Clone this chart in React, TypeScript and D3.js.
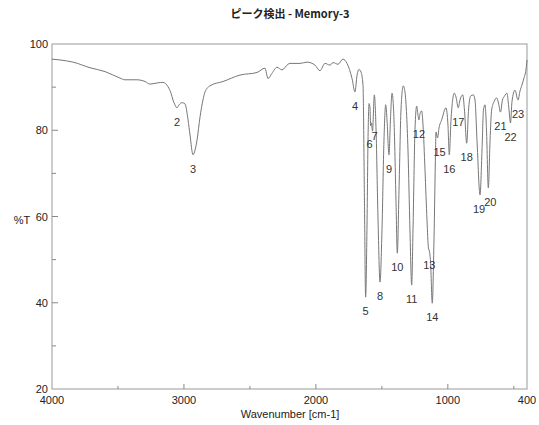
import React from "react";
import * as d3 from "d3";

// spectrum (cm-1 / %T)
const wavenumber = [
  4000, 3939, 3841, 3712, 3598, 3485, 3447, 3356, 3295, 3257,
  3197, 3159, 3121, 3098, 3083, 3068, 3053, 3037, 3015, 2992,
  2969, 2954, 2931, 2916, 2901, 2878, 2856, 2840, 2803, 2704,
  2575, 2446, 2386, 2363, 2333, 2295, 2257, 2211, 2196, 2120,
  2067, 2007, 1969, 1931, 1893, 1870, 1832, 1795, 1764, 1726,
  1704, 1688, 1673, 1658, 1643, 1632, 1623, 1613, 1605, 1597,
  1590, 1585, 1579, 1571, 1557, 1544, 1529, 1514, 1499, 1484,
  1471, 1461, 1446, 1435, 1423, 1408, 1393, 1383, 1370, 1355,
  1338, 1325, 1302, 1287, 1274, 1264, 1249, 1236, 1226, 1219,
  1211, 1198, 1188, 1173, 1158, 1147, 1140, 1131, 1118, 1105,
  1093, 1090, 1078, 1067, 1047, 1014, 999, 989, 976, 951,
  938, 921, 908, 887, 874, 857, 843, 828, 807, 794,
  779, 756, 741, 730, 718, 707, 693, 680, 668, 650,
  630, 616, 601, 586, 571, 552, 540, 525, 514, 491,
  468, 453, 438, 423, 408, 400,
];
const transmittance = [
  96.5, 96.3, 95.8, 94.5, 93.6, 92.1, 91.7, 91.7, 91.3, 90.7,
  91.0, 91.1, 90.1, 88.6, 87.0, 85.9, 85.2, 85.9, 86.4, 86.1,
  82.4, 78.9, 74.3, 75.4, 77.7, 83.1, 87.0, 88.9, 90.3, 91.3,
  92.8, 93.4, 94.4, 92.0, 93.2, 94.6, 94.0, 95.3, 95.5, 95.5,
  95.8, 95.1, 93.8, 95.5, 95.1, 95.7, 95.3, 96.5, 95.5, 92.0,
  88.9, 92.8, 94.1, 93.5, 90.5, 63.8, 41.3, 56.9, 77.7, 86.2,
  85.2, 81.0, 81.7, 79.8, 88.2, 80.1, 59.2, 44.8, 56.9, 77.7,
  85.9, 82.4, 74.3, 82.4, 88.6, 82.4, 63.8, 51.5, 66.1, 84.7,
  90.3, 88.9, 75.4, 56.9, 44.1, 56.9, 80.1, 85.6, 83.5, 82.4,
  83.8, 84.5, 81.2, 70.8, 59.2, 52.7, 52.0, 49.5, 39.9, 54.6,
  75.4, 79.6, 78.2, 80.5, 82.4, 85.2, 81.2, 74.3, 82.4, 88.6,
  87.7, 85.2, 87.0, 88.2, 84.7, 77.0, 84.7, 87.9, 88.2, 87.0,
  77.7, 65.0, 75.4, 84.7, 85.9, 80.1, 66.6, 77.7, 84.7, 86.6,
  87.5, 86.3, 84.2, 87.0, 87.9, 88.6, 85.9, 81.7, 86.6, 89.3,
  87.0, 89.1, 90.5, 92.1, 94.0, 96.3,
];

// detected peaks
const peakNo = [2, 3, 4, 5, 6, 7, 8, 9, 10, 11, 12, 13, 14, 15, 16, 17, 18, 19, 20, 21, 22, 23];
const peakWn = [3053, 2931, 1704, 1623, 1585, 1571, 1514, 1446, 1383, 1274, 1219, 1140, 1118, 1078, 989, 921, 857, 756, 693, 601, 525, 468];
const peakT = [85.2, 74.3, 88.9, 41.3, 81.0, 79.8, 44.8, 74.3, 51.5, 44.1, 82.4, 52.0, 39.9, 78.2, 74.3, 85.2, 77.0, 65.0, 66.6, 84.2, 81.7, 87.0];

const xTicks = [4000, 3000, 2000, 1000, 400];
const xMinor = [3500, 3000, 2500, 2000, 1500, 1000, 500];
const yTicks = [20, 40, 60, 80, 100];
const yMinor = [30, 40, 50, 60, 70, 80, 90];

const W = 539;
const H = 425;
const left = 52, right = 527, top = 44, bottom = 389;
const font = "'Liberation Sans', Arial, sans-serif";

export default function App() {
  const x = d3.scaleLinear().domain([4000, 400]).range([left, right]);
  const y = d3.scaleLinear().domain([20, 100]).range([bottom, top]);

  const pts: [number, number][] = wavenumber.map((w, i) => [w, transmittance[i]]);
  const line = d3
    .line<[number, number]>()
    .x((d) => x(d[0]))
    .y((d) => y(d[1]))
    .curve(d3.curveMonotoneX);

  // labels sit under the peak; 6/7 are stacked like in the original print
  const labelDy = (n: number) => (n === 6 ? 22 : n === 7 ? 9 : 18);
  const labelDx = (n: number) =>
    n === 6 ? -1 : n === 7 ? 2 : n === 15 ? 2 : n === 19 ? -1 : n === 20 ? 2 : 0;

  return (
    <svg
      width={W}
      height={H}
      style={{ position: "absolute", left: 0, top: 0, background: "#fff" }}
      fontFamily={font}
    >
      <text x={290} y={18} textAnchor="middle" fontSize={11} fontWeight="bold" fill="#222"
        fontFamily="'Noto Sans CJK JP', 'Liberation Sans', sans-serif">
        ピーク検出 - Memory-3
      </text>

      <rect x={left} y={top} width={right - left} height={bottom - top} fill="none" stroke="#999" strokeWidth={1} />

      {xMinor.map((t) => (
        <line key={"xm" + t} x1={x(t)} x2={x(t)} y1={bottom} y2={bottom - (t % 1000 === 0 ? 5 : 3)} stroke="#888" />
      ))}
      {yMinor.map((t) => (
        <line key={"ym" + t} x1={left} x2={left + (t % 20 === 0 ? 6 : 4)} y1={y(t)} y2={y(t)} stroke="#888" />
      ))}

      {xTicks.map((t) => (
        <text key={"xt" + t} x={x(t)} y={bottom + 15} textAnchor="middle" fontSize={11} fill="#222">
          {t}
        </text>
      ))}
      {yTicks.map((t) => (
        <text key={"yt" + t} x={left - 4} y={y(t) + 4} textAnchor="end" fontSize={11} fill="#222">
          {t}
        </text>
      ))}

      <text x={22} y={224} textAnchor="middle" fontSize={11} fill="#222">%T</text>
      <text x={290} y={418} textAnchor="middle" fontSize={11} fill="#222">Wavenumber [cm-1]</text>

      <path d={line(pts) ?? ""} fill="none" stroke="#777" strokeWidth={1} />

      {peakNo.map((n, i) => (
        <text key={"p" + n} x={x(peakWn[i]) + labelDx(n)} y={y(peakT[i]) + labelDy(n)}
          textAnchor="middle" fontSize={11} fill="#333">
          {n}
        </text>
      ))}
    </svg>
  );
}
